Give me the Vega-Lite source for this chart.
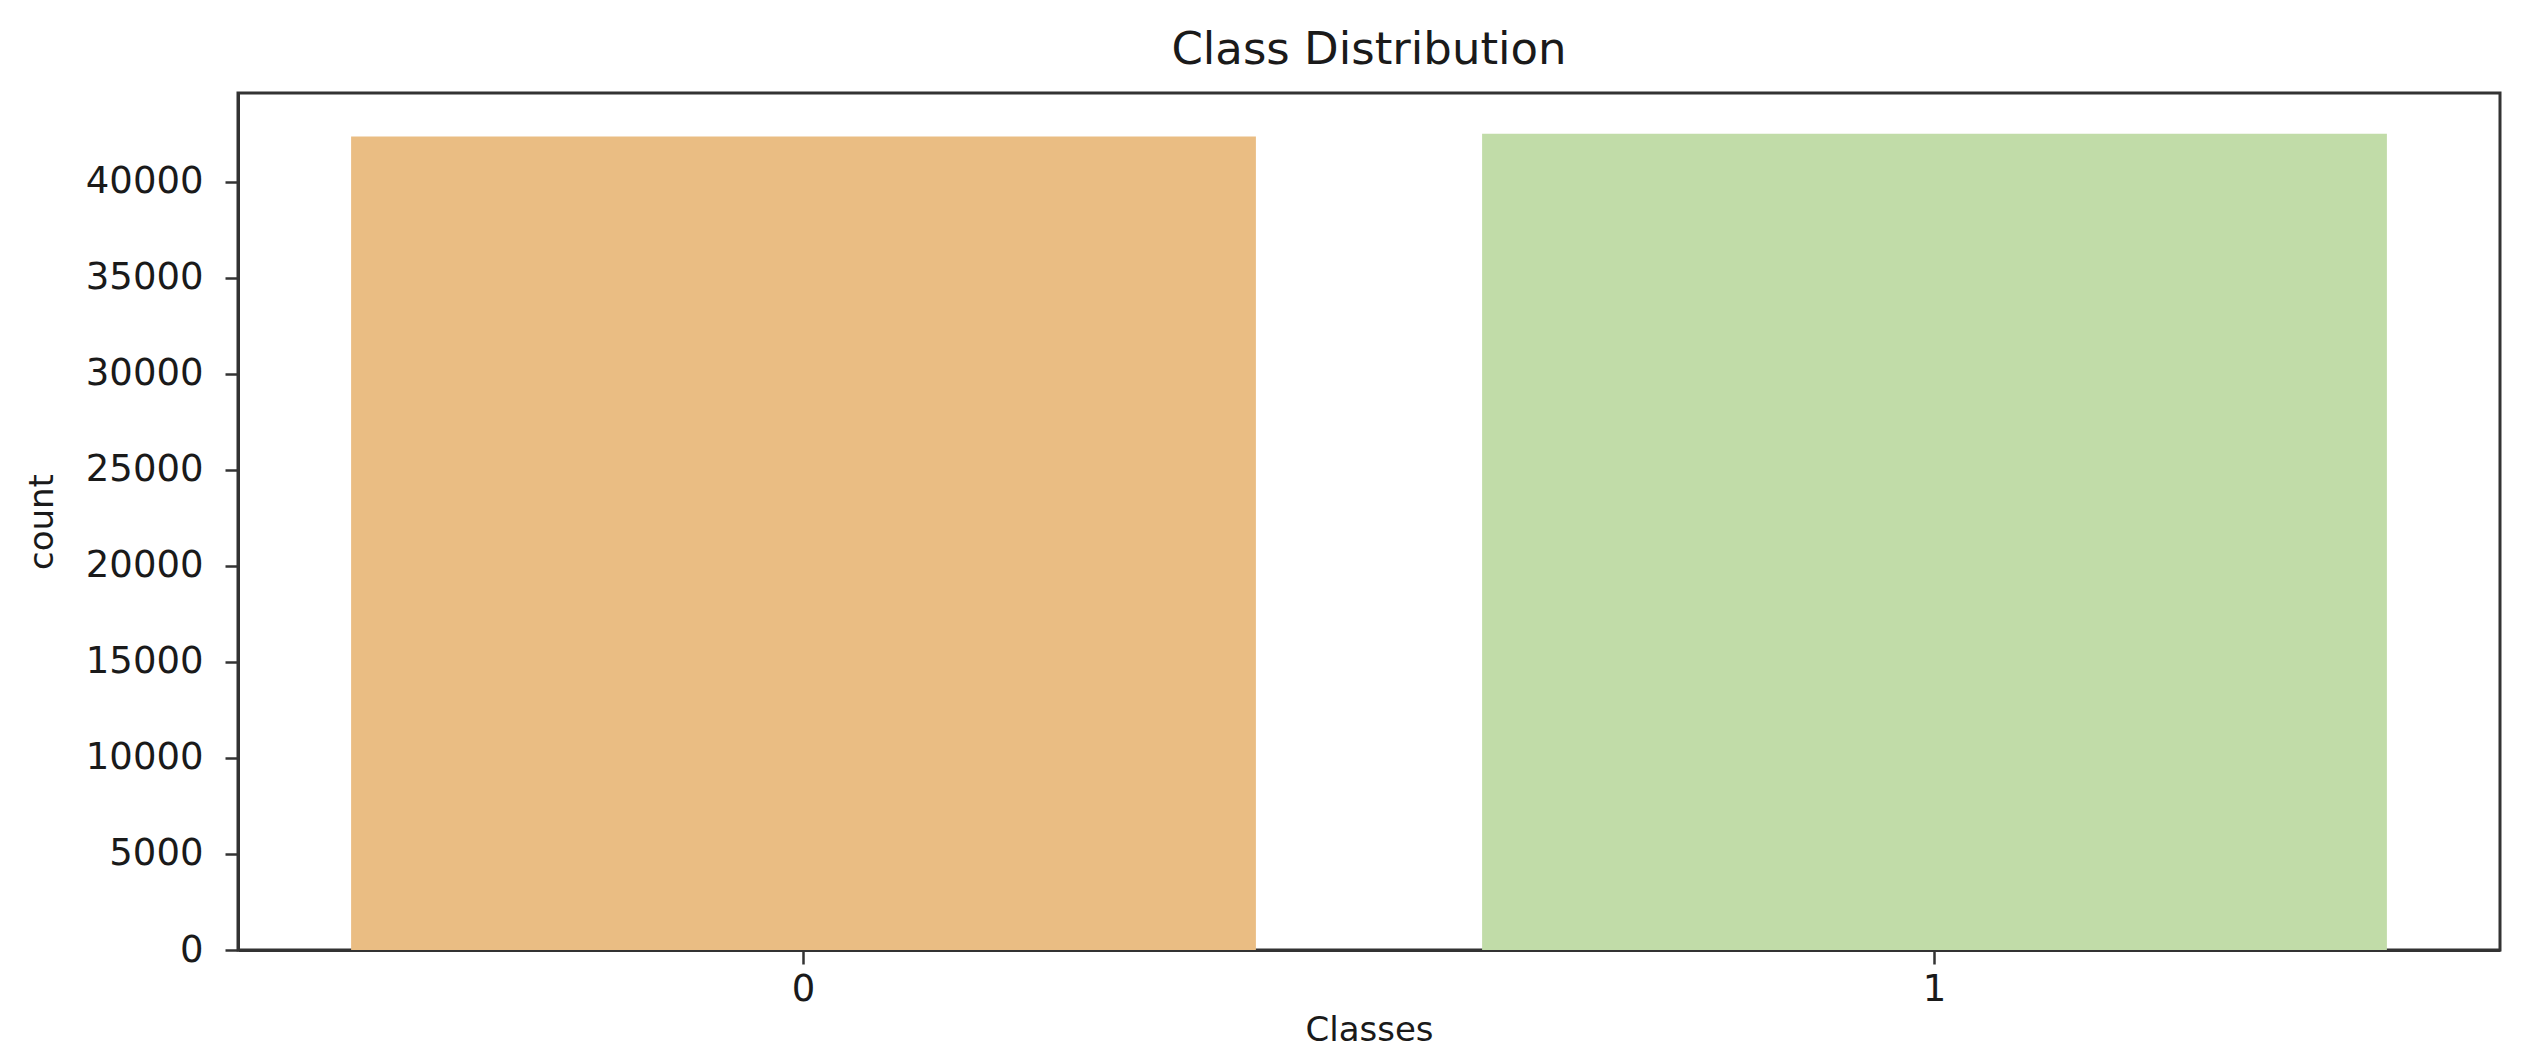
{
  "$schema": "https://vega.github.io/schema/vega-lite/v6.json",
  "autosize": "none",
  "width": 2262,
  "height": 857,
  "padding": {"left": 238, "top": 93, "right": 31, "bottom": 106},
  "background": "white",
  "title": {
    "text": "Class Distribution",
    "font": "DejaVu Sans",
    "fontSize": 45,
    "fontWeight": "normal",
    "color": "#1a1a1a",
    "offset": 20,
    "anchor": "middle"
  },
  "data": {
    "values": [
      {"Classes": "0", "count": 42360},
      {"Classes": "1", "count": 42500}
    ]
  },
  "mark": {"type": "bar"},
  "encoding": {
    "x": {
      "field": "Classes",
      "type": "nominal",
      "sort": ["0", "1"],
      "scale": {"paddingInner": 0.2, "paddingOuter": 0.1},
      "axis": {
        "title": "Classes",
        "labelAngle": 0,
        "labelPadding": 7,
        "tickSize": 14,
        "titlePadding": 6,
        "titleFontSize": 34
      }
    },
    "y": {
      "field": "count",
      "type": "quantitative",
      "scale": {"domain": [0, 44625], "nice": false, "zero": true},
      "axis": {
        "title": "count",
        "values": [0, 5000, 10000, 15000, 20000, 25000, 30000, 35000, 40000],
        "format": "d",
        "grid": false,
        "tickSize": 13,
        "labelPadding": 22,
        "titlePadding": 26,
        "titleFontSize": 34
      }
    },
    "color": {
      "field": "Classes",
      "type": "nominal",
      "scale": {"domain": ["0", "1"], "range": ["#EABD83", "#C1DCA8"]},
      "legend": null
    }
  },
  "config": {
    "view": {"stroke": "#333333", "strokeWidth": 3},
    "axis": {
      "domainColor": "#333333",
      "domainWidth": 3,
      "tickColor": "#333333",
      "tickWidth": 2.5,
      "labelFont": "DejaVu Sans",
      "labelFontSize": 37,
      "labelColor": "#1a1a1a",
      "titleFont": "DejaVu Sans",
      "titleFontWeight": "normal",
      "titleColor": "#1a1a1a"
    }
  }
}
